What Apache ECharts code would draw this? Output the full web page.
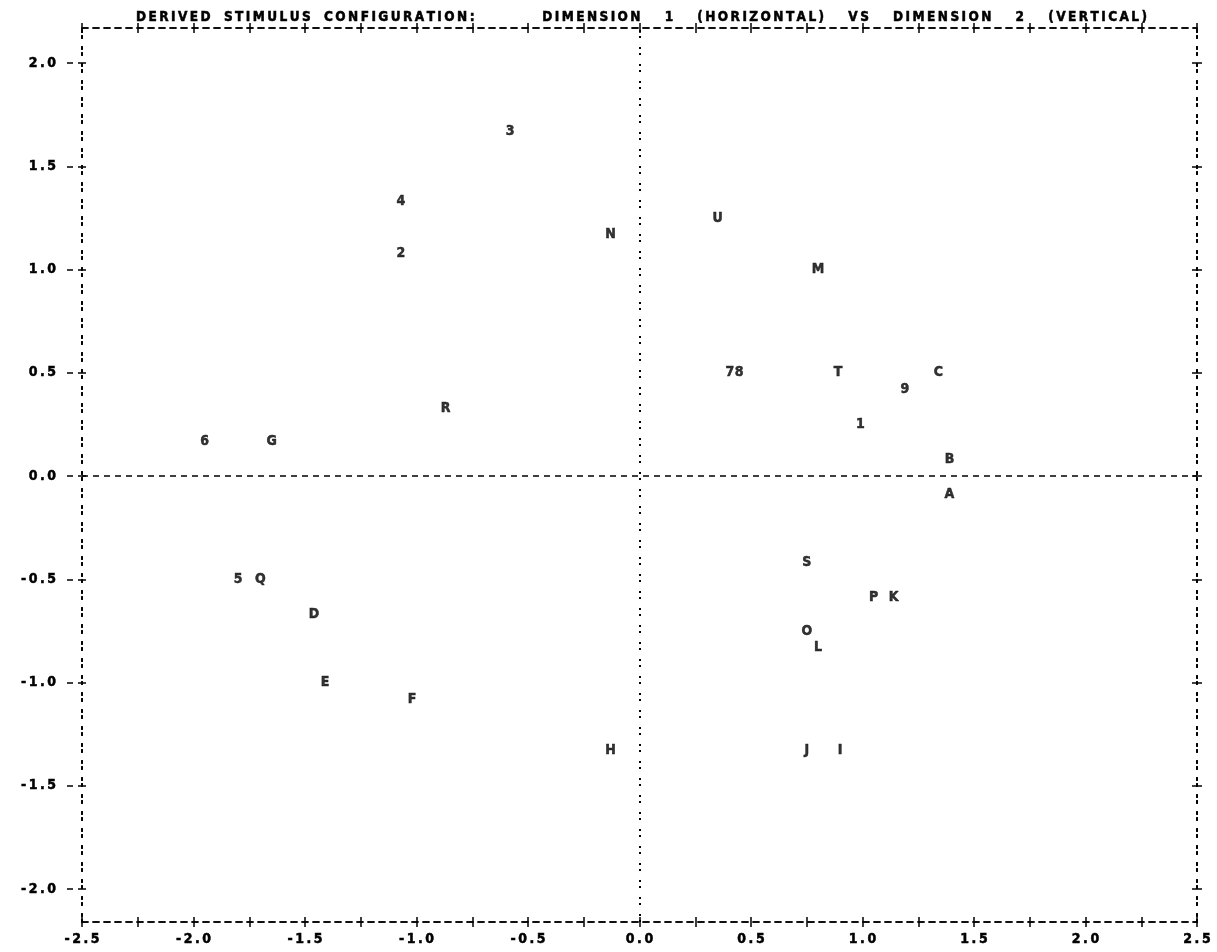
<!DOCTYPE html>
<html>
<head>
<meta charset="utf-8">
<script src="https://cdn.jsdelivr.net/npm/echarts@6/dist/echarts.min.js"></script>
<style>
html,body{margin:0;padding:0;background:#fff;}
#chart{width:1217px;height:952px;}
</style>
</head>
<body>
<div id="chart"></div>
<script>
// Stimulus labels and their coordinates on the two derived dimensions
const stimulusLabels = ['3','4','2','N','U','M','7','8','T','C','9','1','R','6','G','B','A','S','P','K','O','L','5','Q','D','E','F','H','J','I'];
const dim1Values = [-0.58,-1.07,-1.07,-0.13,0.35,0.80,0.405,0.447,0.89,1.34,1.19,0.99,-0.87,-1.95,-1.65,1.39,1.39,0.75,1.05,1.14,0.75,0.80,-1.80,-1.70,-1.46,-1.41,-1.02,-0.13,0.75,0.90];
const dim2Values = [1.67,1.33,1.08,1.17,1.25,1.00,0.50,0.50,0.50,0.50,0.42,0.25,0.33,0.17,0.17,0.08,-0.09,-0.42,-0.59,-0.59,-0.75,-0.83,-0.50,-0.50,-0.67,-1.00,-1.08,-1.33,-1.33,-1.33];
const xTickValues = [-2.5,-2.0,-1.5,-1.0,-0.5,0.0,0.5,1.0,1.5,2.0,2.5];
const yTickValues = [-2.0,-1.5,-1.0,-0.5,0.0,0.5,1.0,1.5,2.0];
const titleText = 'DERIVED STIMULUS CONFIGURATION:      DIMENSION  1  (HORIZONTAL)  VS  DIMENSION  2  (VERTICAL)';

const FONT = "'DejaVu Sans Condensed','Liberation Sans Narrow',sans-serif";
// line-printer look: spread characters apart
function mono(s){
  return s.split('').map(c => c === ' ' ? '\u2007' : c).join('\u2009');
}
const chart = echarts.init(document.getElementById('chart'), null, {renderer:'canvas'});

const points = stimulusLabels.map((l,i)=>[dim1Values[i], dim2Values[i], l]);
const DOTS = [2,4,2,9];
const TXT = {color:'#000', fontFamily:FONT, fontWeight:'bold', fontSize:14, textBorderColor:'#000', textBorderWidth:0.5};

function xAxisDef(pos, inside, showLabel){
  return {
    type:'value', position:pos, min:-2.5, max:2.5, interval:0.5,
    axisLine:{show:true, onZero:false, lineStyle:{color:'#000', width:1.5, type:[6,5]}},
    axisTick:{show:true, inside:inside, length:5, lineStyle:{color:'#000', width:1.5}},
    minorTick:{show:true, splitNumber:2, length:5, lineStyle:{color:'#000', width:1.5}},
    axisLabel:Object.assign({show:showLabel, margin:10, formatter:v=>mono(v.toFixed(1))}, TXT),
    splitLine:{show:false}
  };
}
function yAxisDef(pos, inside, showLabel, len, dash){
  return {
    type:'value', position:pos, min:-2.16, max:2.17,
    axisLine:{show:true, onZero:false, lineStyle:{color:'#000', width:2, type:DOTS}},
    axisTick:{show:true, inside:inside, length:len, customValues:yTickValues,
      lineStyle:{color:'#000', width:1.5, type:dash || 'solid'}},
    axisLabel:Object.assign({show:showLabel, margin:26, customValues:yTickValues, formatter:v=>mono(v.toFixed(1))}, TXT),
    splitLine:{show:false}
  };
}

chart.setOption({
  backgroundColor:'#fff',
  animation:false,
  title:[
    {text:mono(titleText), left:131, top:5, textStyle:Object.assign({}, TXT, {fontSize:13.5})}
  ],
  grid:{left:82, right:20, top:28, bottom:30},
  xAxis:[
    xAxisDef('bottom', false, true),
    xAxisDef('bottom', true, false),
    xAxisDef('top', false, false),
    xAxisDef('top', true, false)
  ],
  yAxis:[
    yAxisDef('left', false, true, 15, [4,5,6]),
    yAxisDef('left', true, false, 4),
    yAxisDef('right', false, false, 5),
    yAxisDef('right', true, false, 5)
  ],
  series:[{
    type:'scatter',
    xAxisIndex:0, yAxisIndex:0,
    data:points,
    symbol:'circle', symbolSize:1,
    itemStyle:{color:'rgba(0,0,0,0)'},
    label:Object.assign({show:true, position:'inside', formatter:p=>p.data[2]}, TXT),
    emphasis:{disabled:true},
    markLine:{
      silent:true, symbol:'none', label:{show:false},
      data:[
        {xAxis:0, lineStyle:{color:'#000', width:2, type:DOTS}},
        {yAxis:0, lineStyle:{color:'#000', width:1.5, type:[6,5]}}
      ]
    }
  }]
});
</script>
</body>
</html>
